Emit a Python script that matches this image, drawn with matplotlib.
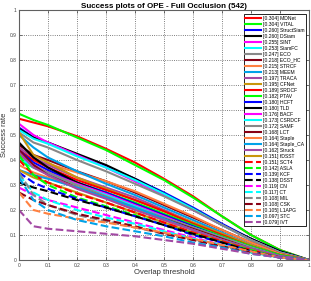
import numpy as np
import matplotlib
matplotlib.use("Agg")
import matplotlib.pyplot as plt

plt.rcParams['font.family'] = ['Liberation Sans', 'DejaVu Sans']

thresholds = [0, 0.05, 0.1, 0.2, 0.3, 0.4, 0.5, 0.6, 0.7, 0.8, 0.9, 1.0]

trackers = ["MDNet", "VITAL", "StructSiam", "DSiam", "SINT", "SiamFC", "ECO", "ECO_HC",
            "STRCF", "MEEM", "TRACA", "CFNet", "SRDCF", "PTAV", "HCFT", "TLD", "BACF",
            "CSRDCF", "SAMF", "LCT", "Staple", "Staple_CA", "Struck", "fDSST", "SCT4",
            "ASLA", "KCF", "DSST", "CN", "CT", "MIL", "CSK", "L1APG", "STC", "IVT"]
auc = [0.304, 0.304, 0.260, 0.260, 0.255, 0.253, 0.247, 0.218, 0.215, 0.213, 0.197, 0.195,
       0.189, 0.182, 0.180, 0.180, 0.176, 0.173, 0.172, 0.168, 0.164, 0.164, 0.162, 0.151,
       0.151, 0.142, 0.139, 0.138, 0.119, 0.117, 0.108, 0.108, 0.105, 0.097, 0.079]

success = [
    [0.565, 0.55, 0.535, 0.495, 0.445, 0.39, 0.325, 0.255, 0.175, 0.10, 0.04, 0.0],
    [0.585, 0.56, 0.54, 0.49, 0.44, 0.38, 0.32, 0.25, 0.175, 0.10, 0.04, 0.0],
    [0.53, 0.49, 0.47, 0.42, 0.375, 0.325, 0.27, 0.21, 0.145, 0.085, 0.035, 0.0],
    [0.525, 0.49, 0.47, 0.425, 0.38, 0.325, 0.265, 0.205, 0.14, 0.085, 0.035, 0.0],
    [0.545, 0.50, 0.47, 0.42, 0.37, 0.315, 0.26, 0.20, 0.14, 0.08, 0.03, 0.0],
    [0.52, 0.485, 0.465, 0.415, 0.37, 0.32, 0.265, 0.205, 0.14, 0.08, 0.03, 0.0],
    [0.51, 0.47, 0.45, 0.40, 0.355, 0.305, 0.255, 0.20, 0.14, 0.08, 0.03, 0.0],
    [0.46, 0.42, 0.40, 0.355, 0.315, 0.27, 0.22, 0.17, 0.12, 0.07, 0.025, 0.0],
    [0.43, 0.40, 0.385, 0.35, 0.315, 0.275, 0.225, 0.175, 0.12, 0.07, 0.025, 0.0],
    [0.50, 0.45, 0.41, 0.355, 0.305, 0.26, 0.21, 0.16, 0.11, 0.06, 0.02, 0.0],
    [0.45, 0.41, 0.38, 0.33, 0.29, 0.25, 0.20, 0.15, 0.105, 0.06, 0.02, 0.0],
    [0.51, 0.42, 0.39, 0.33, 0.285, 0.24, 0.195, 0.15, 0.105, 0.06, 0.02, 0.0],
    [0.44, 0.40, 0.37, 0.32, 0.28, 0.24, 0.195, 0.145, 0.10, 0.055, 0.02, 0.0],
    [0.40, 0.37, 0.35, 0.31, 0.27, 0.23, 0.185, 0.14, 0.095, 0.055, 0.02, 0.0],
    [0.44, 0.39, 0.36, 0.31, 0.27, 0.225, 0.18, 0.135, 0.09, 0.05, 0.015, 0.0],
    [0.47, 0.41, 0.37, 0.31, 0.265, 0.22, 0.175, 0.13, 0.09, 0.05, 0.015, 0.0],
    [0.42, 0.38, 0.35, 0.305, 0.265, 0.22, 0.175, 0.13, 0.09, 0.05, 0.015, 0.0],
    [0.41, 0.37, 0.345, 0.30, 0.26, 0.215, 0.17, 0.13, 0.09, 0.05, 0.015, 0.0],
    [0.43, 0.38, 0.35, 0.30, 0.255, 0.21, 0.17, 0.13, 0.09, 0.05, 0.015, 0.0],
    [0.44, 0.38, 0.34, 0.29, 0.25, 0.205, 0.165, 0.125, 0.085, 0.045, 0.015, 0.0],
    [0.38, 0.35, 0.33, 0.29, 0.25, 0.205, 0.16, 0.12, 0.08, 0.045, 0.015, 0.0],
    [0.36, 0.34, 0.325, 0.29, 0.25, 0.21, 0.165, 0.12, 0.08, 0.045, 0.015, 0.0],
    [0.43, 0.37, 0.34, 0.285, 0.245, 0.20, 0.16, 0.12, 0.08, 0.045, 0.015, 0.0],
    [0.36, 0.33, 0.31, 0.27, 0.23, 0.19, 0.15, 0.11, 0.075, 0.04, 0.01, 0.0],
    [0.40, 0.34, 0.31, 0.265, 0.23, 0.19, 0.15, 0.11, 0.075, 0.04, 0.01, 0.0],
    [0.42, 0.34, 0.30, 0.25, 0.215, 0.18, 0.14, 0.105, 0.07, 0.04, 0.01, 0.0],
    [0.35, 0.31, 0.285, 0.245, 0.21, 0.175, 0.14, 0.10, 0.07, 0.035, 0.01, 0.0],
    [0.31, 0.29, 0.275, 0.24, 0.21, 0.175, 0.14, 0.105, 0.07, 0.035, 0.01, 0.0],
    [0.29, 0.26, 0.24, 0.21, 0.18, 0.15, 0.12, 0.09, 0.06, 0.03, 0.01, 0.0],
    [0.34, 0.27, 0.24, 0.20, 0.17, 0.145, 0.115, 0.085, 0.06, 0.03, 0.01, 0.0],
    [0.35, 0.26, 0.22, 0.18, 0.155, 0.13, 0.105, 0.08, 0.055, 0.03, 0.01, 0.0],
    [0.27, 0.24, 0.22, 0.185, 0.16, 0.135, 0.105, 0.08, 0.055, 0.03, 0.01, 0.0],
    [0.27, 0.20, 0.185, 0.165, 0.15, 0.13, 0.11, 0.085, 0.06, 0.035, 0.01, 0.0],
    [0.33, 0.24, 0.20, 0.16, 0.135, 0.115, 0.095, 0.07, 0.05, 0.025, 0.01, 0.0],
    [0.20, 0.135, 0.125, 0.115, 0.105, 0.095, 0.08, 0.065, 0.045, 0.025, 0.01, 0.0],
]

palette = ["#ff0000", "#00ff00", "#0000ff", "#000000", "#ff00ff", "#00ffff",
           "#888888", "#880015", "#ff8040", "#00a2e8", "#a349a4", "#c8960c"]

fig = plt.figure(figsize=(3.11, 2.81), dpi=100)
ax = fig.add_axes([0.061, 0.0747, 0.9325, 0.8897])

for i, (name, a, ys) in enumerate(zip(trackers, auc, success)):
    style = "-" if i < 24 else "--"
    ax.plot(thresholds, ys, style, color=palette[i % 12], lw=1.5,
            label=f"[{a:.3f}] {name}")

ax.set_xlim(0, 1)
ax.set_ylim(0, 1)
ax.set_xticks(np.arange(0, 1.01, 0.1))
ax.set_yticks(np.arange(0, 1.01, 0.1))
ax.set_xticklabels(["0", "0.1", "0.2", "0.3", "0.4", "0.5", "0.6", "0.7", "0.8", "0.9", "1"])
ax.set_yticklabels(["0", "0.1", "0.2", "0.3", "0.4", "0.5", "0.6", "0.7", "0.8", "0.9", "1"])
ax.tick_params(direction="in", length=2, width=0.5, labelsize=3.5, pad=2,
               top=True, right=True, colors="#404040")
ax.grid(True, linestyle=":", color="#555555", lw=0.6)
for sp in ax.spines.values():
    sp.set_color("#606060")
    sp.set_linewidth(0.8)

ax.set_title("Success plots of OPE - Full Occlusion (542)", fontsize=5.8,
             fontweight="bold", pad=1.5)
ax.set_xlabel("Overlap threshold", fontsize=5.5, labelpad=1, color="#303030")
ax.set_ylabel("Success rate", fontsize=5.5, labelpad=1, color="#303030")

leg = ax.legend(loc="upper right", bbox_to_anchor=(0.99, 0.984), borderaxespad=0,
                fontsize=3.6, labelspacing=0.2, handlelength=3.2, handletextpad=0.4,
                borderpad=0.3, fancybox=False, framealpha=1, edgecolor="black")
leg.get_frame().set_linewidth(0.6)

fig.savefig("out.png", dpi=100)
